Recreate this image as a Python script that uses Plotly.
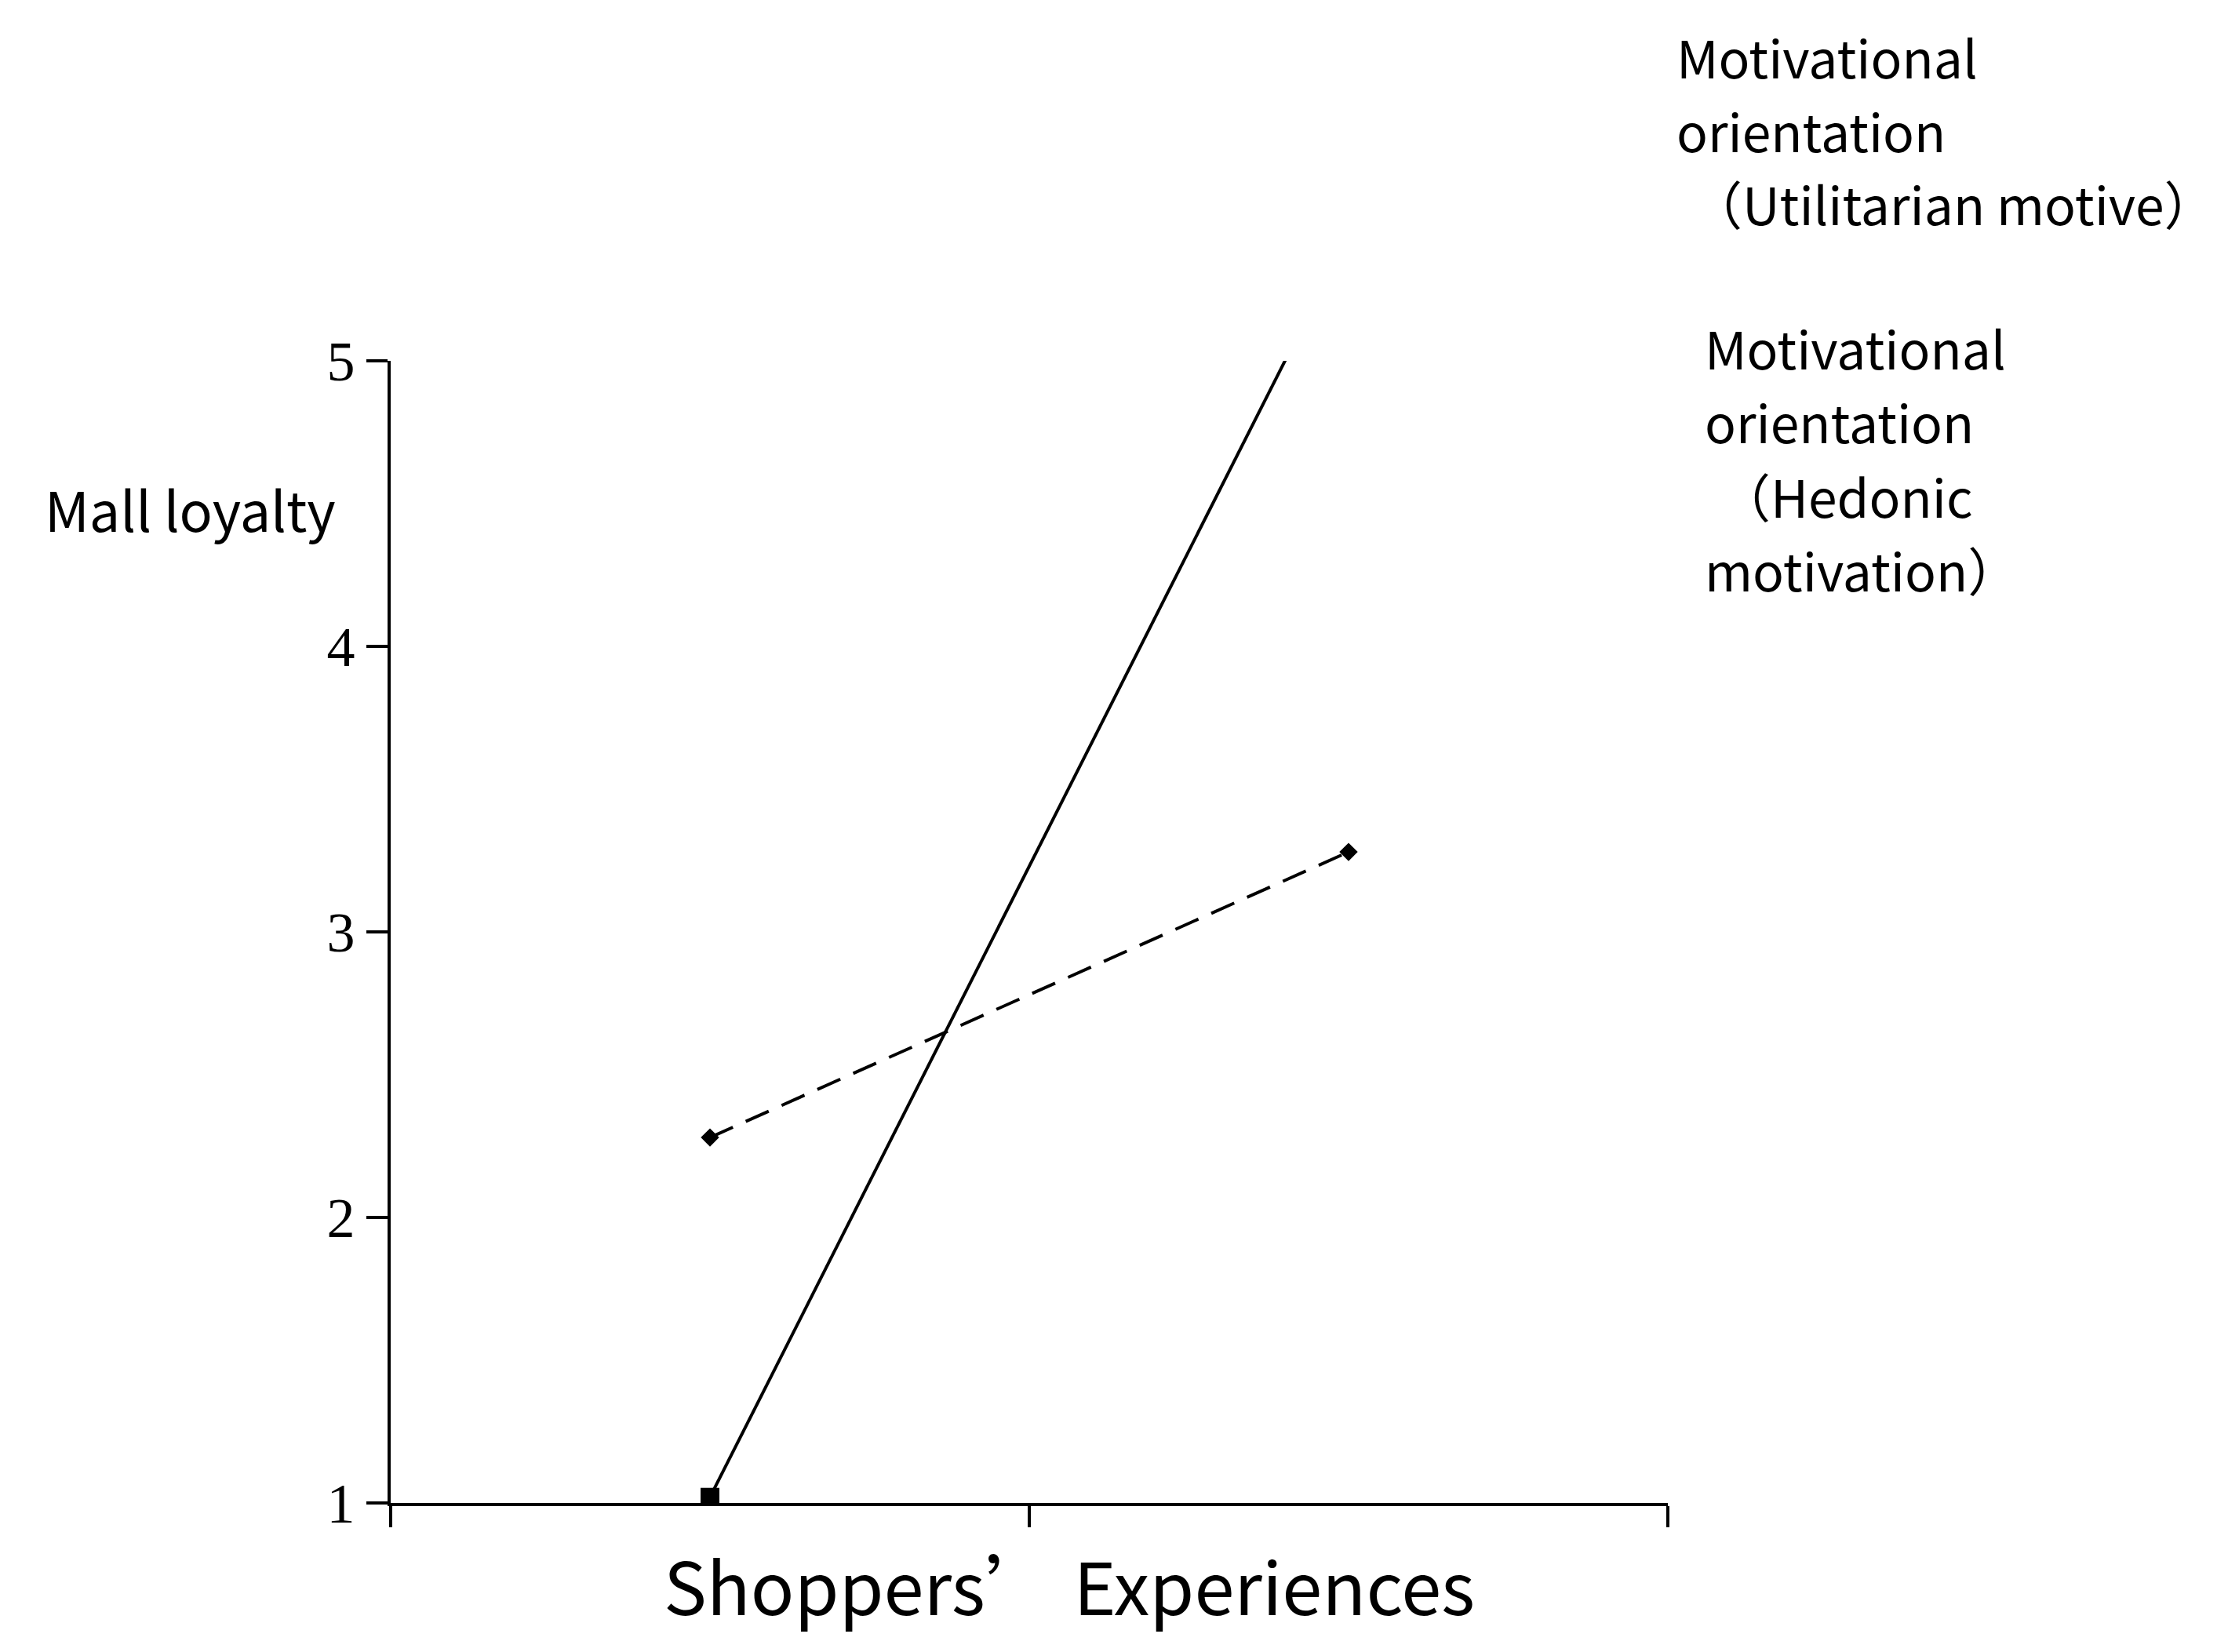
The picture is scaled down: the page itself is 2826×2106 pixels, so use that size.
import plotly.graph_objects as go

x_pos = [0.5, 1.5]
utilitarian = [2.28, 3.28]
hedonic = [1.02, 5.44]
y_ticks = [1, 2, 3, 4, 5]
x_ticks = [0, 1, 2]
util_label = ["Motivational", "orientation", "（Utilitarian motive）"]
hed_label = ["Motivational", "orientation", "（Hedonic", "motivation）"]

W, H = 2826, 2106
sx, sy = 2826/1568, 2106/1170
L, R, T, B = 490, 708, 452, 198
PW, PH = W - L - R, H - T - B
DASH = "32px,18px"

fig = go.Figure()
fig.add_trace(go.Scatter(x=x_pos, y=utilitarian, mode="lines+markers",
    line=dict(color="black", width=4, dash=DASH),
    marker=dict(symbol="diamond", size=18, color="black"), cliponaxis=True))
fig.add_trace(go.Scatter(x=x_pos, y=hedonic, mode="lines+markers",
    line=dict(color="black", width=4),
    marker=dict(symbol="square", size=24, color="black"), cliponaxis=True))

def px(x): return (x*sx - L)/PW
def py(y): return (H - B - y*sy)/PH

fig.add_trace(go.Scatter(x=[px(1100), px(1185)], y=[py(33), py(33)], mode="lines",
    line=dict(color="black", width=4, dash=DASH), xaxis="x2", yaxis="y2", cliponaxis=False))
fig.add_trace(go.Scatter(x=[px(1143)], y=[py(33)], mode="markers",
    marker=dict(symbol="diamond", size=18, color="black"), xaxis="x2", yaxis="y2", cliponaxis=False))
fig.add_trace(go.Scatter(x=[px(1100), px(1185)], y=[py(240), py(240)], mode="lines",
    line=dict(color="black", width=4), xaxis="x2", yaxis="y2", cliponaxis=False))
fig.add_trace(go.Scatter(x=[px(1143)], y=[py(240)], mode="markers",
    marker=dict(symbol="square", size=24, color="black"), xaxis="x2", yaxis="y2", cliponaxis=False))

font = "Noto Sans CJK SC"
ann = []
for i, t in enumerate(util_label):
    ann.append(dict(text=t, x=px(1180 if i < 2 else 1190), y=py(35+52*i), xref="paper", yref="paper",
                    xanchor="left", yanchor="middle", showarrow=False,
                    font=dict(size=66, family=font, color="black")))
for i, t in enumerate(hed_label):
    ann.append(dict(text=t, x=px(1200 if i != 2 else 1210), y=py(241+52.5*i), xref="paper", yref="paper",
                    xanchor="left", yanchor="middle", showarrow=False,
                    font=dict(size=66, family=font, color="black")))
ann.append(dict(text="Mall loyalty", x=px(130), y=py(355), xref="paper", yref="paper",
                xanchor="center", yanchor="middle", showarrow=False,
                font=dict(size=70, family=font, color="black")))
ann.append(dict(text="Shoppers’ Experiences", x=px(752), y=py(1117), xref="paper", yref="paper",
                xanchor="center", yanchor="middle", showarrow=False,
                font=dict(size=92, family=font, color="black")))

fig.update_layout(width=W, height=H, paper_bgcolor="white", plot_bgcolor="white",
    showlegend=False, annotations=ann,
    margin=dict(l=L, r=R, t=T, b=B),
    xaxis=dict(range=[0, 2], tickvals=x_ticks, ticktext=["", "", ""], ticks="outside",
               ticklen=27, tickwidth=4, tickcolor="black", showline=True, linecolor="black",
               linewidth=4, showgrid=False, zeroline=False),
    yaxis=dict(range=[1, 5], tickvals=y_ticks, ticks="outside", ticklen=27, tickwidth=4,
               tickcolor="black", showline=True, linecolor="black", linewidth=4, showgrid=False,
               zeroline=False, tickfont=dict(family="Liberation Serif", size=72, color="black")),
    xaxis2=dict(range=[0, 1], visible=False, anchor="y2", overlaying="x"),
    yaxis2=dict(range=[0, 1], visible=False, anchor="x2", overlaying="y"),
)
fig.write_html("out.html")
